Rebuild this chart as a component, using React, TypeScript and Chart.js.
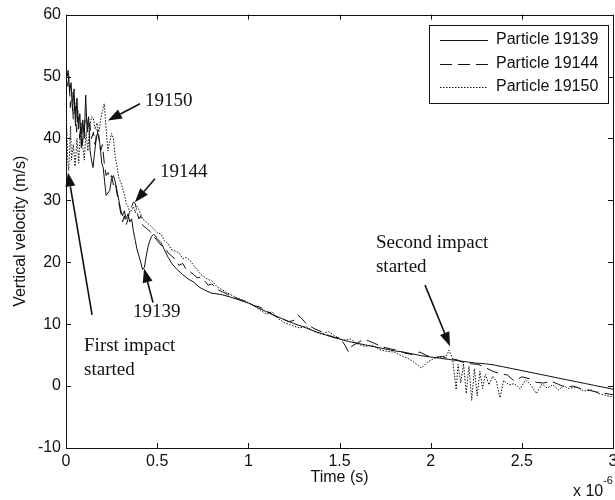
import React, { useEffect, useRef } from "react";
import { Chart, registerables } from "chart.js";

Chart.register(...registerables);

// ---------- data ----------
const seriesLabels = ["Particle 19139", "Particle 19144", "Particle 19150"];

const t19139 = [0, 0.006, 0.012, 0.02, 0.028, 0.036, 0.044, 0.052, 0.06, 0.068, 0.076, 0.084, 0.092, 0.1, 0.108, 0.116, 0.124, 0.132, 0.14, 0.148, 0.156, 0.164, 0.172, 0.18, 0.188, 0.196, 0.204, 0.212, 0.22, 0.23, 0.24, 0.25, 0.26, 0.27, 0.28, 0.29, 0.3, 0.31, 0.32, 0.33, 0.34, 0.35, 0.36, 0.37, 0.38, 0.39, 0.4, 0.41, 0.42, 0.43, 0.44, 0.45, 0.46, 0.47, 0.48, 0.49, 0.5, 0.52, 0.54, 0.56, 0.58, 0.61, 0.64, 0.67, 0.7, 0.73, 0.76, 0.8, 0.85, 0.9, 0.95, 1.0, 1.05, 1.1, 1.15, 1.2, 1.25, 1.3, 1.35, 1.4, 1.45, 1.5, 1.55, 1.6, 1.65, 1.7, 1.75, 1.8, 1.85, 1.9, 1.95, 2.0, 2.05, 2.1, 2.15, 2.2, 2.25, 2.3, 2.35, 2.4, 2.45, 2.5, 2.55, 2.6, 2.65, 2.7, 2.75, 2.8, 2.85, 2.9, 2.95, 3.0];
const v19139 = [51.0, 50.0, 51.0, 47.5, 49.0, 44.5, 48.0, 42.0, 46.5, 41.5, 44.0, 38.5, 43.0, 40.0, 47.0, 41.0, 43.5, 38.0, 36.5, 35.3, 37.5, 39.5, 40.8, 40.5, 38.5, 36.0, 35.3, 33.0, 30.8, 31.2, 31.6, 33.5, 34.0, 33.0, 31.5, 30.0, 28.5, 27.5, 28.3, 27.0, 27.8, 26.5, 27.0, 25.0, 23.5, 22.0, 21.0, 20.0, 18.8, 19.2, 21.0, 22.5, 23.5, 24.2, 24.5, 24.3, 23.8, 23.2, 22.0, 20.8, 19.8, 18.8, 18.0, 17.3, 16.8, 16.0, 15.5, 15.0, 14.8, 14.4, 13.9, 13.4, 12.7, 12.0, 11.3, 10.7, 10.1, 9.6, 9.0, 8.5, 8.0, 7.6, 7.2, 6.9, 6.6, 6.3, 6.0, 5.7, 5.5, 5.2, 4.9, 4.7, 4.5, 4.3, 4.1, 3.9, 3.7, 3.6, 3.4, 3.1, 2.8, 2.5, 2.2, 1.9, 1.6, 1.3, 1.0, 0.7, 0.4, 0.1, -0.2, -0.5];

const t19144 = [0, 0.008, 0.016, 0.024, 0.032, 0.04, 0.05, 0.058, 0.066, 0.074, 0.082, 0.09, 0.1, 0.11, 0.12, 0.13, 0.14, 0.15, 0.16, 0.17, 0.18, 0.19, 0.2, 0.21, 0.22, 0.23, 0.24, 0.25, 0.26, 0.27, 0.28, 0.29, 0.3, 0.31, 0.32, 0.33, 0.34, 0.35, 0.36, 0.37, 0.38, 0.39, 0.4, 0.41, 0.42, 0.44, 0.46, 0.48, 0.5, 0.52, 0.54, 0.56, 0.58, 0.6, 0.62, 0.64, 0.66, 0.68, 0.7, 0.72, 0.74, 0.76, 0.78, 0.8, 0.83, 0.86, 0.9, 0.95, 1.0, 1.03, 1.06, 1.1, 1.14, 1.18, 1.22, 1.25, 1.27, 1.29, 1.32, 1.36, 1.4, 1.44, 1.48, 1.5, 1.53, 1.55, 1.57, 1.6, 1.63, 1.66, 1.7, 1.74, 1.78, 1.82, 1.86, 1.9, 1.94, 1.98, 2.02, 2.06, 2.1, 2.14, 2.18, 2.22, 2.26, 2.3, 2.34, 2.38, 2.42, 2.46, 2.5, 2.54, 2.58, 2.62, 2.66, 2.7, 2.74, 2.78, 2.82, 2.86, 2.9, 2.94, 2.98, 3.0];
const v19144 = [50.5, 48.0, 50.0, 45.0, 47.5, 43.0, 46.0, 41.0, 44.5, 40.0, 42.5, 39.0, 42.0, 44.0, 41.5, 42.5, 40.0, 41.0, 39.0, 41.5, 40.0, 38.0, 39.0, 36.0, 34.0, 34.5, 33.5, 34.0, 32.5, 33.0, 31.0, 29.5, 28.0, 26.5, 27.5, 26.0, 27.0, 28.5, 29.0, 29.7, 29.5, 28.0, 27.0, 27.5, 26.0, 25.5, 25.0, 24.2, 23.5, 22.8, 22.5, 21.5, 21.0, 20.5, 19.5, 19.8, 18.8, 18.5, 18.0, 17.5, 17.6, 17.0, 16.3, 16.5, 15.6, 15.2, 14.6, 14.0, 13.5, 13.0, 12.8, 12.2, 11.4, 11.0, 10.4, 10.6, 11.5, 11.0, 10.0, 9.3, 8.8, 8.2, 7.8, 7.9, 6.6, 5.5, 6.5, 7.0, 7.5, 7.3, 6.8, 6.3, 6.0, 5.8, 5.3, 5.1, 5.5, 4.9, 4.6, 4.8, 4.4, 4.3, 3.8, 3.6, 3.5, 3.0, 2.4, 2.0, 1.8, 0.8, 1.5, 1.2, 0.6, 0.5, 0.8, 0.3, -0.2, 0.0, -0.4, -0.6, -0.9, -1.1, -1.3, -1.4];

const t19150 = [0, 0.005, 0.01, 0.015, 0.02, 0.025, 0.03, 0.04, 0.05, 0.06, 0.07, 0.08, 0.09, 0.1, 0.11, 0.12, 0.13, 0.14, 0.15, 0.16, 0.17, 0.18, 0.19, 0.2, 0.21, 0.22, 0.23, 0.24, 0.25, 0.26, 0.27, 0.28, 0.29, 0.3, 0.31, 0.32, 0.33, 0.34, 0.35, 0.36, 0.37, 0.38, 0.39, 0.4, 0.42, 0.44, 0.46, 0.48, 0.5, 0.52, 0.54, 0.56, 0.58, 0.6, 0.62, 0.64, 0.66, 0.68, 0.7, 0.72, 0.74, 0.76, 0.78, 0.8, 0.83, 0.86, 0.9, 0.94, 0.98, 1.02, 1.06, 1.1, 1.13, 1.16, 1.2, 1.24, 1.28, 1.32, 1.36, 1.4, 1.44, 1.48, 1.52, 1.56, 1.6, 1.64, 1.68, 1.72, 1.76, 1.8, 1.84, 1.88, 1.92, 1.95, 1.98, 2.02, 2.06, 2.09, 2.1, 2.11, 2.12, 2.14, 2.15, 2.165, 2.18, 2.195, 2.21, 2.225, 2.24, 2.255, 2.27, 2.285, 2.3, 2.32, 2.34, 2.36, 2.38, 2.4, 2.43, 2.46, 2.49, 2.52, 2.55, 2.58, 2.61, 2.64, 2.67, 2.7, 2.73, 2.76, 2.8, 2.84, 2.88, 2.92, 2.96, 3.0];
const v19150 = [45.0, 41.0, 36.0, 34.8, 38.0, 42.0, 36.5, 39.0, 35.5, 40.0, 36.0, 42.0, 39.5, 36.5, 41.0, 38.0, 42.0, 43.5, 43.2, 41.5, 42.5, 41.0, 43.0, 44.5, 45.6, 41.5, 38.0, 39.5, 40.8, 40.0, 37.0, 35.5, 33.5, 33.0, 32.0, 31.0, 29.5, 29.0, 28.0, 28.5, 29.0, 28.0, 29.0, 28.5, 27.0, 26.5, 26.0, 25.4, 24.8, 24.6, 23.5, 23.0, 22.0, 21.8, 21.5, 20.6, 20.8, 20.3, 19.5, 18.8, 18.0, 17.6, 17.2, 17.0, 16.0, 15.5, 14.8, 14.2, 13.8, 13.2, 12.4, 11.6, 12.0, 11.0, 10.2, 9.8, 9.4, 9.6, 8.8, 8.4, 8.8, 8.0, 7.4, 7.6, 6.8, 6.4, 6.6, 5.9, 5.6, 5.5, 4.9, 4.4, 3.6, 2.9, 3.8, 4.5, 4.7, 5.0, 5.8, 5.2, 4.4, -0.6, 3.5, 0.5, 3.6, -1.2, 3.2, -2.3, 2.8, -1.6, 2.4, -0.4, 1.9, 0.2, 1.6, 0.8, -1.9, 0.9, 0.2, 0.4, -0.5, 1.0, 0.2, -1.2, 0.3, -0.3, 0.2, -0.6, 0.0, -0.4, -0.1, -0.8, -0.6, -1.2, -1.5, -1.8];

const xTicks = [0, 0.5, 1, 1.5, 2, 2.5, 3];
const yTicks = [-10, 0, 10, 20, 30, 40, 50, 60];

// annotations: text lines, text anchor (t, v), arrow start (t, v), arrow tip (t, v)
const annoTexts = [["19150"], ["19144"], ["19139"], ["First impact", "started"], ["Second impact", "started"]];
const annoTextPos = [[0.433, 46.1], [0.516, 34.5], [0.367, 11.9], [0.099, 6.45], [1.70, 23.1]];
const annoArrowFrom = [[0.406, 45.6], [0.488, 33.5], [0.477, 13.5], [0.143, 11.5], [1.969, 16.3]];
const annoArrowTip = [[0.23, 42.9], [0.378, 29.7], [0.428, 19.0], [0.011, 34.5], [2.106, 6.45]];

const SANS = '"Liberation Sans", Arial, sans-serif';
const SERIF = '"Liberation Serif", "Times New Roman", serif';
const INK = "#111";

const lineStyles = [[], [12, 6], [1.5, 1.5]];

function drawArrow(ctx: CanvasRenderingContext2D, x1: number, y1: number, x2: number, y2: number) {
  const ang = Math.atan2(y2 - y1, x2 - x1);
  const hl = 14, hw = 5;
  const bx = x2 - hl * Math.cos(ang), by = y2 - hl * Math.sin(ang);
  ctx.beginPath();
  ctx.moveTo(x1, y1);
  ctx.lineTo(bx, by);
  ctx.stroke();
  ctx.beginPath();
  ctx.moveTo(x2, y2);
  ctx.lineTo(bx + hw * Math.sin(ang), by - hw * Math.cos(ang));
  ctx.lineTo(bx - hw * Math.sin(ang), by + hw * Math.cos(ang));
  ctx.closePath();
  ctx.fill();
}

const decorPlugin = {
  id: "decor",
  afterDraw(chart: any) {
    const { ctx, chartArea: a, scales } = chart;
    const xs = scales.x, ys = scales.y;
    ctx.save();
    // frame
    ctx.strokeStyle = INK;
    ctx.lineWidth = 1;
    ctx.strokeRect(Math.round(a.left) + 0.5, Math.round(a.top) + 0.5, Math.round(a.right - a.left), Math.round(a.bottom - a.top));
    // inward ticks on all sides
    const tl = 5;
    ctx.beginPath();
    for (const v of xTicks) {
      const px = Math.round(xs.getPixelForValue(v)) + 0.5;
      ctx.moveTo(px, a.bottom);
      ctx.lineTo(px, a.bottom - tl);
      ctx.moveTo(px, a.top);
      ctx.lineTo(px, a.top + tl);
    }
    for (const v of yTicks) {
      const py = Math.round(ys.getPixelForValue(v)) + 0.5;
      ctx.moveTo(a.left, py);
      ctx.lineTo(a.left + tl, py);
      ctx.moveTo(a.right, py);
      ctx.lineTo(a.right - tl, py);
    }
    ctx.stroke();

    // exponent label
    ctx.fillStyle = INK;
    ctx.textBaseline = "middle";
    ctx.textAlign = "left";
    ctx.font = `16px ${SANS}`;
    ctx.fillText("x 10", a.right - 40, a.bottom + 44);
    ctx.font = `11px ${SANS}`;
    ctx.fillText("-6", a.right - 10, a.bottom + 33);

    // annotations
    ctx.font = `19px ${SERIF}`;
    ctx.lineWidth = 1.6;
    annoTexts.forEach((lines, i) => {
      const tx = xs.getPixelForValue(annoTextPos[i][0]);
      const ty = ys.getPixelForValue(annoTextPos[i][1]);
      lines.forEach((s, j) => ctx.fillText(s, tx, ty + j * 24));
      drawArrow(
        ctx,
        xs.getPixelForValue(annoArrowFrom[i][0]), ys.getPixelForValue(annoArrowFrom[i][1]),
        xs.getPixelForValue(annoArrowTip[i][0]), ys.getPixelForValue(annoArrowTip[i][1])
      );
    });

    // legend box
    const bw = 179, bh = 78;
    const bx = Math.round(a.right) - 5 - bw, by = Math.round(a.top) + 10;
    ctx.fillStyle = "#fff";
    ctx.fillRect(bx, by, bw, bh);
    ctx.lineWidth = 1;
    ctx.strokeStyle = INK;
    ctx.strokeRect(bx + 0.5, by + 0.5, bw, bh);
    ctx.font = `16px ${SANS}`;
    ctx.fillStyle = INK;
    seriesLabels.forEach((lab, i) => {
      const ry = by + 15 + i * 23.5;
      ctx.setLineDash(lineStyles[i]);
      ctx.beginPath();
      ctx.moveTo(bx + 11, Math.round(ry) + 0.5);
      ctx.lineTo(bx + 59, Math.round(ry) + 0.5);
      ctx.stroke();
      ctx.setLineDash([]);
      ctx.fillText(lab, bx + 67, ry);
    });
    ctx.restore();
  },
};

export default function App() {
  const ref = useRef<HTMLCanvasElement | null>(null);
  useEffect(() => {
    document.body.style.margin = "0";
    document.body.style.overflow = "hidden";
    document.documentElement.style.overflow = "hidden";
    const canvas = ref.current;
    if (!canvas) return;
    const mk = (ts: number[], vs: number[]) => ts.map((t, i) => ({ x: t, y: vs[i] }));
    const datas = [mk(t19139, v19139), mk(t19144, v19144), mk(t19150, v19150)];
    const chart = new Chart(canvas, {
      type: "line",
      data: {
        datasets: datas.map((d, i) => ({
          label: seriesLabels[i],
          data: d,
          borderColor: INK,
          borderWidth: 1,
          borderDash: lineStyles[i],
          pointRadius: 0,
          tension: 0,
          fill: false,
        })),
      },
      options: {
        responsive: false,
        animation: false,
        events: [],
        layout: { padding: { left: 0, top: 14, right: 27, bottom: 0 } },
        plugins: { legend: { display: false }, tooltip: { enabled: false } },
        scales: {
          x: {
            type: "linear",
            min: 0,
            max: 3,
            grid: { display: false, drawTicks: false },
            border: { display: false },
            afterBuildTicks: (s: any) => { s.ticks = xTicks.map((v) => ({ value: v })); },
            afterFit: (s: any) => { s.height = 52; },
            ticks: {
              padding: 4,
              color: INK,
              font: { family: SANS, size: 16 },
              maxRotation: 0,
              callback: (v: any) => String(v),
            },
            title: {
              display: true,
              text: "Time (s)",
              color: INK,
              font: { family: SANS, size: 16 },
              padding: { top: 0, bottom: 13 },
            },
          },
          y: {
            type: "linear",
            min: -10,
            max: 60,
            grid: { display: false, drawTicks: false },
            border: { display: false },
            afterBuildTicks: (s: any) => { s.ticks = yTicks.map((v) => ({ value: v })); },
            afterFit: (s: any) => { s.width = 66; },
            ticks: {
              padding: 5,
              color: INK,
              font: { family: SANS, size: 16 },
              callback: (v: any) => String(v),
            },
            title: {
              display: true,
              text: "Vertical velocity (m/s)",
              color: INK,
              font: { family: SANS, size: 16 },
              padding: { top: 11, bottom: 0 },
            },
          },
        },
      },
      plugins: [decorPlugin],
    });
    return () => chart.destroy();
  }, []);
  return (
    <div style={{ width: 640, height: 500, position: "relative" }}>
      <canvas ref={ref} width={640} height={500} style={{ width: 640, height: 500, display: "block" }} />
    </div>
  );
}
